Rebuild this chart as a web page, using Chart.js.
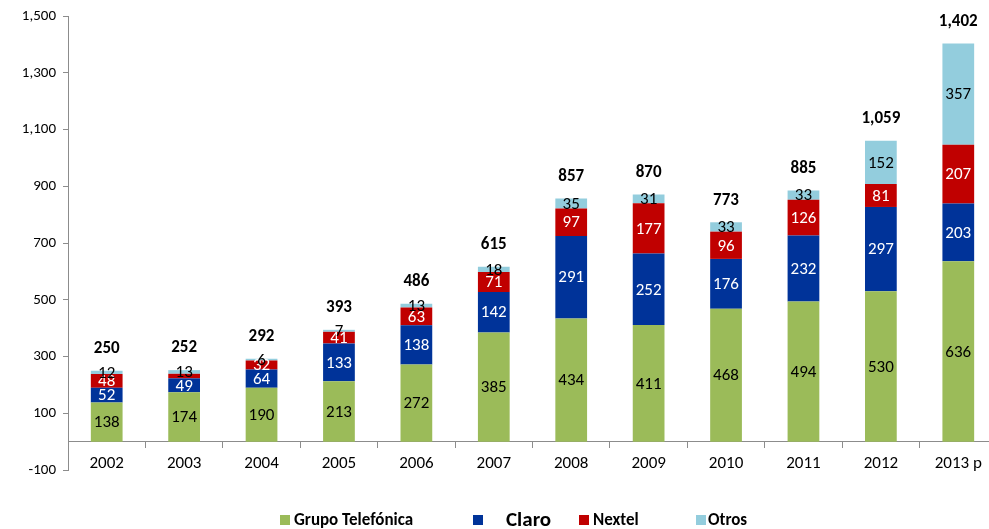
<!DOCTYPE html>
<html><head><meta charset="utf-8">
<script src="https://cdn.jsdelivr.net/npm/chart.js@4/dist/chart.umd.min.js"></script>
<style>html,body{margin:0;padding:0;background:#fff;overflow:hidden;}#wrap{width:1000px;height:529px;}</style>
</head><body><div id="wrap"><canvas id="c" width="1000" height="529"></canvas></div>
<script>
const categories = ['2002','2003','2004','2005','2006','2007','2008','2009','2010','2011','2012','2013 p'];
const telefonica = [138,174,190,213,272,385,434,411,468,494,530,636];
const claro      = [52,49,64,133,138,142,291,252,176,232,297,203];
const nextel     = [48,16,32,41,63,71,97,177,96,126,81,207];
const otros      = [12,13,6,7,13,18,35,31,33,33,152,357];
const totals     = [250,252,292,393,486,615,857,870,773,885,1059,1402];
const yTicks     = [-100,100,300,500,700,900,1100,1300,1500];
const seriesNames = ['Grupo Telefónica','Claro','Nextel','Otros'];

const FONT = 'Carlito, Lato, "Liberation Sans", sans-serif';
const colors = ['#9BBB59','#003399','#C00000','#93CDDD'];
const labelColors = ['#000','#fff','#fff','#000'];
const fmt = v => Number(v).toLocaleString('en-US');

const segLabels = {
  id:'segLabels',
  afterDatasetsDraw(chart){
    const ctx = chart.ctx;
    ctx.save();
    ctx.font = '17px ' + FONT;
    ctx.textAlign = 'center';
    ctx.textBaseline = 'middle';
    chart.data.datasets.forEach((ds, di) => {
      const meta = chart.getDatasetMeta(di);
      meta.data.forEach((bar, i) => {
        const h = Math.abs(bar.base - bar.y);
        if (labelColors[di] === '#fff' && h < 8) return;
        ctx.fillStyle = labelColors[di];
        ctx.fillText(fmt(ds.data[i]), bar.x, (bar.y + bar.base) / 2 + 1);
      });
    });
    const ys = chart.scales.y, xs = chart.scales.x;
    ctx.font = 'bold 17px ' + FONT;
    ctx.fillStyle = '#000';
    totals.forEach((t, i) => {
      ctx.fillText(fmt(t), xs.getPixelForValue(i), ys.getPixelForValue(t) - 22);
    });
    ctx.restore();
  }
};

const customLegend = {
  id:'customLegend',
  afterDraw(chart){
    const ctx = chart.ctx;
    const items = [
      {box:280, text:294, size:17},
      {box:473, text:506, size:21},
      {box:579, text:593, size:17},
      {box:696, text:708, size:17}
    ];
    const cy = 520;
    ctx.save();
    ctx.textBaseline = 'middle';
    ctx.textAlign = 'left';
    chart.data.datasets.forEach((ds, i) => {
      const it = items[i];
      ctx.fillStyle = ds.backgroundColor;
      ctx.fillRect(it.box, cy - 5, 10, 10);
      ctx.fillStyle = '#000';
      ctx.font = 'bold ' + it.size + 'px ' + FONT;
      ctx.fillText(ds.label, it.text, cy + 1);
    });
    ctx.restore();
  }
};

const seriesData = [telefonica, claro, nextel, otros];
new Chart(document.getElementById('c'), {
  type:'bar',
  data:{
    labels: categories,
    datasets: seriesData.map((d, i) => ({
      label: seriesNames[i],
      data: d,
      backgroundColor: colors[i],
      borderWidth: 0,
      barPercentage: 0.41,
      categoryPercentage: 1.0
    }))
  },
  options:{
    responsive:false,
    animation:false,
    devicePixelRatio:1,
    layout:{padding:{top:15, bottom:59, left:0, right:3}},
    plugins:{legend:{display:false}, tooltip:{enabled:false}, title:{display:false}},
    scales:{
      x:{
        stacked:true,
        position:{y:0},
        grid:{offset:true, drawOnChartArea:false, drawTicks:true, tickLength:6, color:'#8c8c8c'},
        border:{display:true, color:'#8c8c8c'},
        ticks:{font:{family:FONT, size:17}, color:'#000', padding:6, maxRotation:0}
      },
      y:{
        stacked:true,
        min:-100, max:1500,
        afterBuildTicks(s){ s.ticks = yTicks.map(v => ({value:v})); },
        afterFit(s){ s.width = 68; },
        grid:{drawOnChartArea:false, drawTicks:true, tickLength:5, color:'#8c8c8c'},
        border:{display:true, color:'#8c8c8c'},
        ticks:{font:{family:FONT, size:15}, color:'#000', padding:7, callback:v => fmt(v)}
      }
    }
  },
  plugins:[segLabels, customLegend]
});
</script>
</body></html>
